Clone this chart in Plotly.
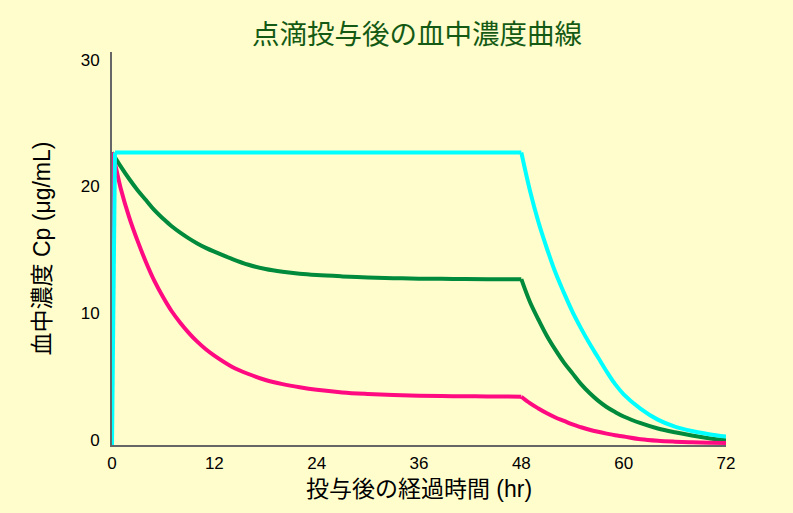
import plotly.graph_objects as go

# ---- data ----
hours = [0, 0, 0.35, 1, 2, 3, 4, 5, 6, 7, 8, 9, 10, 11, 12, 14, 16, 18, 20, 22, 24,
         27, 30, 33, 36, 40, 44, 48, 49, 50, 51, 52, 53, 54, 55, 56, 57, 58, 59, 60,
         62, 64, 66, 68, 70, 72]

cyan_cp = [0, 0, 23.07, 23.07, 23.07, 23.07, 23.07, 23.07, 23.07, 23.07, 23.07, 23.07,
           23.07, 23.07, 23.07, 23.07, 23.07, 23.07, 23.07, 23.07, 23.07, 23.07, 23.07,
           23.07, 23.07, 23.07, 23.07, 23.07, 20.1, 17.6, 15.5, 13.6, 12.0, 10.5, 9.2,
           8.0, 6.9, 5.8, 4.8, 4.0, 2.85, 2.0, 1.45, 1.1, 0.85, 0.66]

green_cp = [0, 23.07, 22.7, 22.0, 21.0, 20.1, 19.3, 18.5, 17.85, 17.25, 16.75, 16.3,
            15.9, 15.55, 15.25, 14.7, 14.22, 13.88, 13.66, 13.5, 13.4, 13.3, 13.22,
            13.16, 13.12, 13.1, 13.08, 13.08, 11.3, 9.9, 8.6, 7.5, 6.5, 5.65, 4.8, 4.1,
            3.5, 3.0, 2.6, 2.25, 1.72, 1.3, 1.0, 0.75, 0.54, 0.38]

pink_cp = [0, 23.07, 22.2, 20.3, 18.0, 16.1, 14.4, 12.9, 11.65, 10.55, 9.65, 8.85,
           8.15, 7.55, 7.05, 6.2, 5.6, 5.13, 4.8, 4.55, 4.35, 4.15, 4.03, 3.94, 3.89,
           3.85, 3.83, 3.81, 3.3, 2.88, 2.5, 2.17, 1.9, 1.62, 1.4, 1.2, 1.04, 0.9,
           0.77, 0.67, 0.45, 0.33, 0.26, 0.21, 0.18, 0.16]

x_ticks = [0, 12, 24, 36, 48, 60, 72]
y_ticks = [0, 10, 20, 30]

title_text = "点滴投与後の血中濃度曲線"
x_title = "投与後の経過時間 (hr)"
y_title = "血中濃度 Cp (μg/mL)"

FONT = "Liberation Sans, Arial, Noto Sans CJK JP, sans-serif"
BG = "#FFFDCC"

i48 = hours.index(48)
# segment boundaries (start, end inclusive) where the curve has a sharp corner
segments = [(0, 1, "linear"), (1, i48, "spline"), (i48, len(hours) - 1, "spline")]
cyan_segments = [(0, 2, "linear"), (2, i48, "linear"), (i48, len(hours) - 1, "spline")]

fig = go.Figure()


def add_series(values, color, segs):
    for a, b, shape in segs:
        fig.add_trace(go.Scatter(
            x=hours[a:b + 1], y=values[a:b + 1], mode="lines",
            line=dict(color=color, width=4, shape=shape, smoothing=1),
            showlegend=False, hoverinfo="x+y"))


add_series(green_cp, "#008A3C", segments)
add_series(pink_cp, "#FF0A80", segments)
add_series(cyan_cp, "#00FFFF", cyan_segments)

fig.update_layout(
    width=793, height=513,
    margin=dict(l=112, r=67, t=52, b=68),
    paper_bgcolor=BG, plot_bgcolor=BG,
    title=dict(text=title_text, x=0.526, xanchor="center", y=1 - 34 / 513,
               yanchor="middle",
               font=dict(family="Noto Sans CJK JP, sans-serif", size=27.5, color="#145A14")),
    font=dict(family=FONT, color="#000000"),
)
fig.update_xaxes(range=[0, 72], tickvals=x_ticks, ticktext=[str(v) for v in x_ticks],
                 showline=True, linecolor="#666666", linewidth=2, showgrid=False,
                 zeroline=False, ticks="", tickfont=dict(size=17, family=FONT),
                 ticklabelstandoff=2,
                 title=dict(text=x_title, font=dict(size=23, family=FONT), standoff=8),
                 automargin=False)
fig.update_yaxes(range=[0, 31], tickvals=y_ticks, ticktext=[str(v) for v in y_ticks],
                 showline=True, linecolor="#666666", linewidth=2, showgrid=False,
                 zeroline=False, ticks="", tickfont=dict(size=17, family=FONT),
                 ticklabelstandoff=7, ticklabelshift=-5,
                 title=dict(text=y_title, font=dict(size=23, family=FONT), standoff=24),
                 automargin=False)

fig.write_html("out.html")
